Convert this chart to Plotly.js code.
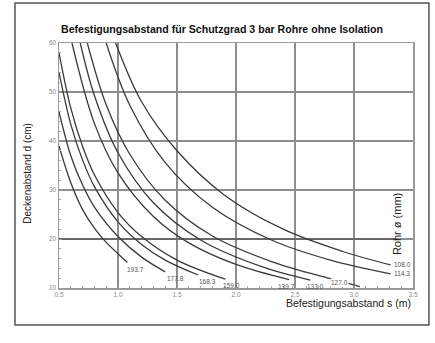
<!DOCTYPE html>
<html><head><meta charset="utf-8">
<script src="https://cdn.plot.ly/plotly-3.0.1.min.js"></script>
<style>html,body{margin:0;padding:0;background:#fff}#chart{width:435px;height:343px}</style>
</head><body><div id="chart"></div>
<script>
// Pipe outer diameters (mm), one curve each
const pipeLabels = ['193.7','177.8','168.3','159.0','139.7','133.0','127.0','114.3','108.0'];

// Befestigungsabstand s (m) and Deckenabstand d (cm)
const s193 = [0.5, 0.6, 0.7, 0.8, 0.9, 1.0, 1.08];
const d193 = [39, 31.5, 26, 22.2, 19.3, 17, 15.2];
const s177 = [0.5, 0.6, 0.7, 0.8, 1.0, 1.2, 1.4];
const d177 = [46, 37, 31, 26.5, 20.5, 16.3, 13.3];
const s168 = [0.5, 0.6, 0.7, 0.8, 1.0, 1.2, 1.4, 1.68];
const d168 = [54, 43.4, 36.1, 30.7, 23.5, 18.9, 15.7, 12.65];
const s159 = [0.5, 0.6, 0.7, 0.8, 1.0, 1.2, 1.5, 1.91];
const d159 = [58, 46.7, 38.9, 33.1, 25.4, 20.5, 15.7, 11.8];
const s139 = [0.61, 0.8, 1.0, 1.3, 1.6, 2.0, 2.45];
const d139 = [60, 43.6, 33.5, 24.6, 19.2, 14.8, 11.7];
const s133 = [0.68, 0.8, 1.0, 1.3, 1.7, 2.2, 2.63];
const d133 = [60, 49.3, 37.6, 27.4, 19.8, 14.5, 11.6];
const s127 = [0.74, 0.9, 1.1, 1.4, 1.8, 2.3, 2.8, 3.05];
const d127 = [60, 47.4, 37.3, 27.9, 20.6, 15.4, 11.9, 10.3];
const s114 = [0.9, 1.1, 1.4, 1.8, 2.3, 2.8, 3.31];
const d114 = [60, 47.3, 35.6, 26.5, 19.8, 15.7, 12.9];
const s108 = [0.98, 1.2, 1.5, 1.9, 2.4, 2.9, 3.31];
const d108 = [60, 48, 38, 29, 22, 17.5, 14.7];

const xTickVals = [0.5, 1.0, 1.5, 2.0, 2.5, 3.0, 3.5];
const xTickText = ['0.5', '1.0', '1.5', '2.0', '2.5', '3.0', '3.5'];
const yTickVals = [10, 20, 30, 40, 50, 60];

const seriesS = [s193, s177, s168, s159, s139, s133, s127, s114, s108];
const seriesD = [d193, d177, d168, d159, d139, d133, d127, d114, d108];

const FONT = 'Liberation Sans, Arial, Helvetica, sans-serif';
const traces = seriesS.map((s, i) => ({
  x: s, y: seriesD[i], mode: 'lines', type: 'scatter', name: pipeLabels[i],
  line: {color: '#3a3a3a', width: 1.3, shape: 'spline', smoothing: 1},
  hoverinfo: 'skip', showlegend: false
}));

// label placement (style, not data)
const labelStyle = {
  '193.7': {idx: -1, xa: 'left', xs: -1, ys: -2},
  '177.8': {idx: -1, xa: 'left', xs: 1, ys: -2},
  '168.3': {idx: -1, xa: 'left', xs: 0, ys: -2},
  '159.0': {idx: -1, xa: 'left', xs: -3, ys: -2},
  '139.7': {idx: -1, xa: 'center', xs: -3, ys: -2},
  '133.0': {idx: -1, xa: 'left', xs: -4, ys: -2},
  '127.0': {idx: 'label', xa: 'center', xs: 0, ys: 0},
  '114.3': {idx: -1, xa: 'left', xs: 2, ys: 0},
  '108.0': {idx: -1, xa: 'left', xs: 2, ys: 0}
};

const annotations = [];
pipeLabels.forEach((lab, i) => {
  const st = labelStyle[lab];
  const s = seriesS[i], d = seriesD[i];
  let x, y, ya = 'top', bg = 'rgba(0,0,0,0)';
  if (st.idx === 'label') {
    x = (s[s.length - 2] + s[s.length - 1]) / 2 - 0.05;
    y = (d[d.length - 2] + d[d.length - 1]) / 2;
    ya = 'middle'; bg = '#ffffff';
  } else {
    x = s[s.length - 1]; y = d[d.length - 1];
    if (lab === '114.3' || lab === '108.0') ya = 'middle';
  }
  annotations.push({
    x: x, y: y, xref: 'x', yref: 'y', text: lab, showarrow: false,
    xanchor: st.xa, yanchor: ya, xshift: st.xs, yshift: st.ys,
    bgcolor: bg, borderpad: 0,
    font: {family: FONT, size: 6.5, color: '#555'}
  });
});

annotations.push(
  {text: '<b>Befestigungsabstand für Schutzgrad 3 bar Rohre ohne Isolation</b>',
   xref: 'paper', yref: 'paper', x: 0, y: 1.057, xanchor: 'left', yanchor: 'middle',
   showarrow: false, font: {family: FONT, size: 10.6, color: '#111'}},
  {text: 'Deckenabstand d (cm)', xref: 'paper', yref: 'paper',
   x: -0.088, y: 0.47, xanchor: 'center', yanchor: 'middle', textangle: -90,
   showarrow: false, font: {family: FONT, size: 10, color: '#222'}},
  {text: 'Befestigungsabstand s (m)', xref: 'paper', yref: 'paper',
   x: 1, y: -0.062, xanchor: 'right', yanchor: 'middle',
   showarrow: false, font: {family: FONT, size: 10.5, color: '#222'}},
  {text: 'Rohr ø (mm)', xref: 'paper', yref: 'paper',
   x: 0.957, y: 0.26, xanchor: 'center', yanchor: 'middle', textangle: -90,
   showarrow: false, font: {family: FONT, size: 11, color: '#222'}}
);

const axisCommon = {
  showgrid: true, gridcolor: '#8e8e8e', gridwidth: 1.5,
  showline: true, linecolor: '#999', linewidth: 1.5, mirror: true,
  zeroline: false, ticks: 'inside', ticklen: 3, tickcolor: '#999', tickwidth: 1,
  tickfont: {family: FONT, size: 6.5, color: '#888'}, fixedrange: true
};

const layout = {
  width: 435, height: 343,
  margin: {l: 59, r: 22, t: 43, b: 55, pad: 0},
  paper_bgcolor: '#ffffff', plot_bgcolor: '#ffffff',
  xaxis: Object.assign({}, axisCommon, {
    range: [0.5, 3.5], tickmode: 'array', tickvals: xTickVals, ticktext: xTickText,
    minor: {dtick: 0.1, tick0: 0.5, ticks: 'inside', ticklen: 2, tickcolor: '#aaa', showgrid: false}
  }),
  yaxis: Object.assign({}, axisCommon, {
    range: [10, 60], tickmode: 'array', tickvals: yTickVals,
    minor: {dtick: 2, tick0: 10, ticks: 'inside', ticklen: 2, tickcolor: '#aaa', showgrid: false}
  }),
  shapes: [
    {type: 'line', xref: 'x', yref: 'y', x0: 0.5, x1: 3.35, y0: 20, y1: 20,
     line: {color: '#444', width: 1.2}, layer: 'between'},
    {type: 'rect', xref: 'paper', yref: 'paper', x0: -0.1243, x1: 1.045, y0: -0.151, y1: 1.163,
     line: {color: '#555', width: 1.5}, fillcolor: 'rgba(0,0,0,0)'}
  ],
  annotations: annotations,
  showlegend: false
};

Plotly.newPlot('chart', traces, layout, {staticPlot: true, displayModeBar: false});
</script></body></html>
